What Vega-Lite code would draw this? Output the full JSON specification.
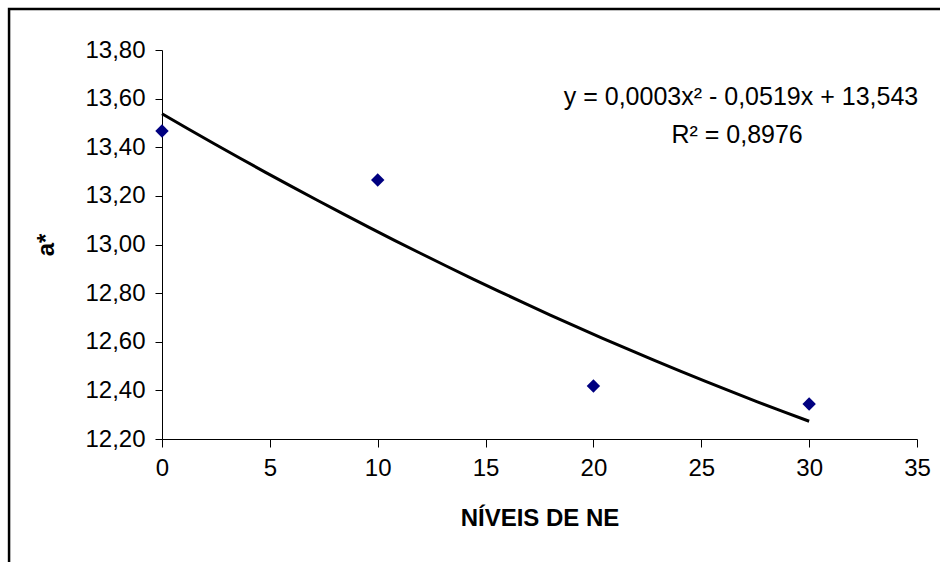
{
  "$schema": "https://vega.github.io/schema/vega-lite/v6.json",
  "autosize": "none",
  "width": 755,
  "height": 389,
  "padding": {"left": 162, "top": 50, "right": 23, "bottom": 123},
  "background": "white",
  "config": {
    "font": "Liberation Sans",
    "view": {"stroke": null},
    "axis": {"grid": false, "domainColor": "black", "tickColor": "black", "labelColor": "black", "titleColor": "black", "labelFont": "Liberation Sans", "titleFont": "Liberation Sans"}
  },
  "datasets": {
    "pts": [
      {"x": 0, "y": 13.467},
      {"x": 10, "y": 13.265},
      {"x": 20, "y": 12.418},
      {"x": 30, "y": 12.344}
    ],
    "frame": [{"x": -7.09, "x2": 38, "y": 13.969, "y2": 11.6}],
    "notes": [
      {"x": 26.84, "y": 13.607, "label": "y = 0,0003x² - 0,0519x + 13,543"},
      {"x": 26.66, "y": 13.45, "label": "R² = 0,8976"}
    ]
  },
  "encoding": {
    "x": {
      "field": "x", "type": "quantitative",
      "scale": {"domain": [0, 35], "nice": false, "zero": false},
      "axis": {
        "values": [0, 5, 10, 15, 20, 25, 30, 35],
        "title": "NÍVEIS DE NE",
        "titleFontSize": 24, "titleFontWeight": "bold", "titlePadding": 26,
        "labelFontSize": 24, "labelPadding": 9, "tickSize": 8,
        "labelFlush": false, "labelOverlap": false
      }
    },
    "y": {
      "field": "y", "type": "quantitative",
      "scale": {"domain": [12.2, 13.8], "nice": false, "zero": false},
      "axis": {
        "values": [12.2, 12.4, 12.6, 12.8, 13.0, 13.2, 13.4, 13.6, 13.8],
        "labelExpr": "replace(format(datum.value, '.2f'), '.', ',')",
        "title": "a*",
        "titleFontSize": 24, "titleFontWeight": "bold", "titlePadding": 26,
        "labelFontSize": 24, "labelPadding": 10, "tickSize": 7,
        "labelFlush": false, "labelOverlap": false
      }
    }
  },
  "layer": [
    {
      "data": {"name": "frame"},
      "mark": {"type": "rect", "filled": false, "stroke": "black", "strokeWidth": 2.5, "clip": false},
      "encoding": {
        "x2": {"field": "x2"},
        "y2": {"field": "y2"}
      }
    },
    {
      "data": {"name": "pts"},
      "transform": [
        {"regression": "y", "on": "x", "method": "poly", "order": 2, "extent": [0, 30]}
      ],
      "mark": {"type": "line", "color": "black", "strokeWidth": 3}
    },
    {
      "data": {"name": "pts"},
      "mark": {"type": "point", "shape": "diamond", "filled": true, "color": "#000080", "size": 180, "opacity": 1}
    },
    {
      "data": {"name": "notes"},
      "mark": {"type": "text", "fontSize": 25, "color": "black", "align": "center", "baseline": "middle"},
      "encoding": {"text": {"field": "label"}}
    }
  ]
}
